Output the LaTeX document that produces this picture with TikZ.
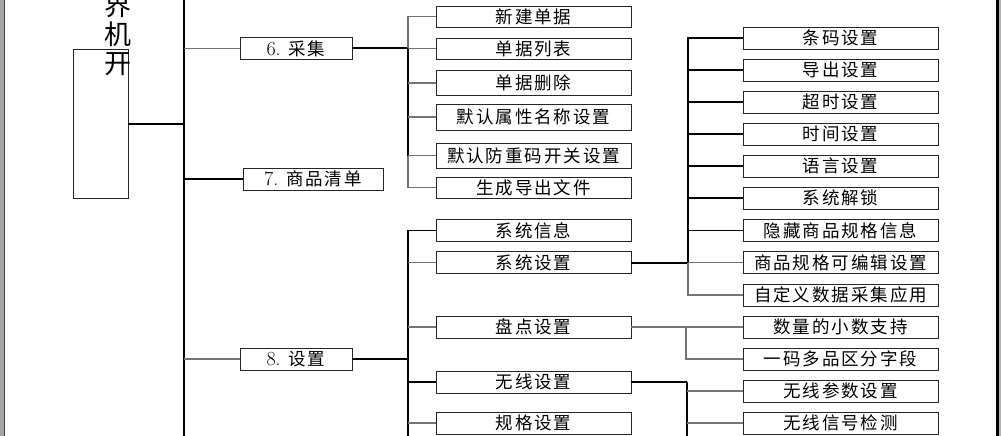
\documentclass[tikz,border=0pt]{standalone}
\usepackage{fontspec}
\newfontfamily\cjk[LetterSpace=11]{Noto Sans CJK SC}
\newfontfamily\cjkplain{Noto Sans CJK SC}
\usetikzlibrary{calc}
\newcommand\latn[1]{{\fontsize{20}{22}\rmfamily #1}}
\tikzset{
  box/.style={draw=black!85,line width=.9pt,fill=white,inner sep=0pt,minimum height=22pt,font=\fontsize{17.5}{20}\selectfont\cjk},
  topbox/.style={box,minimum width=112pt},
  midbox/.style={box,minimum width=195pt},
  leafbox/.style={box,minimum width=195pt},
  bus/.style={draw=black,line width=2pt},
  tie/.style={draw=black,line width=1.2pt},
  link/.style={draw=black!55,line width=1.1pt},
}

\begin{document}
\begin{tikzpicture}[x=1pt,y=-1pt]
  \useasboundingbox (0,0) rectangle (1001,436);
  % page edges
  \fill[black!35] (0,0) rectangle (4,436);
  \draw[black!75,line width=1pt] (4.5,0) -- (4.5,436);
  \fill[black!30] (999,0) rectangle (1001,436);
  \draw[line width=3pt] (997.5,0) -- (997.5,436);

  % root
  \node[draw=black!85,line width=.9pt,minimum width=55pt,minimum height=149pt,inner sep=0pt] (root) at (100.5,123.5) {};
  \node[font=\fontsize{27}{29}\selectfont\cjkplain,align=center,inner sep=0pt] (rootlabel) at (118,35) {界\\机\\开};
  \coordinate (spinetop) at (184,0);
  \coordinate (spinebot) at (184,436);
  \draw[tie] (spinetop) -- (spinebot);
  \draw[bus] (root.east) -- (root.east -| spinetop);

  % level 1
  \node[topbox] (c6) at (296,48.5) {\latn{6.} 采集};
  \node[topbox,minimum width=140pt] (c7) at (313,179) {\latn{7.} 商品清单};
  \node[topbox] (c8) at (296,359) {\latn{8.} 设置};
  \draw[link] (spinetop |- c6.west) -- (c6.west);
  \draw[tie] (spinetop |- c7.west) -- (c7.west);
  \draw[link] (spinetop |- c8.west) -- (c8.west);

  % 6. collect
  \node[midbox,minimum height=21pt] (s1) at (533.5,16.5) {新建单据};
  \node[midbox,minimum height=21pt] (s2) at (533.5,48.5) {单据列表};
  \node[midbox,minimum height=25pt] (s3) at (533.5,83) {单据删除};
  \node[midbox,minimum height=26pt] (s4) at (533.5,117) {默认属性名称设置};
  \node[midbox,minimum height=25pt] (s5) at (533.5,155.5) {默认防重码开关设置};
  \node[midbox,minimum height=21pt] (s6) at (533.5,187.5) {生成导出文件};
  \coordinate (j6) at (408,48.5);
  \draw[bus] (c6.east) -- (j6);
  \draw[link] (s1.west) -| (j6);
  \draw[bus] (j6) -- (j6 |- s5.west);
  \draw[link] (j6 |- s5.west) |- (s6.west);
  \foreach \n in {s2,s3,s4,s5}
    \draw[link] (\n.west) -- (\n.west -| j6);

  % 8. settings
  \node[midbox] (t1) at (533.5,230.5) {系统信息};
  \node[midbox] (t2) at (533.5,262.5) {系统设置};
  \node[midbox] (t3) at (533.5,327) {盘点设置};
  \node[midbox] (t4) at (533.5,382) {无线设置};
  \node[midbox] (t5) at (533.5,423) {规格设置};
  \coordinate (j8) at (408,359);
  \coordinate (j8bot) at (408,436);
  \draw[bus] (c8.east) -- (j8);
  \draw[tie] (t1.west) -| (j8);
  \draw[bus] (j8) -- (j8bot);
  \foreach \n in {t2,t3,t5}
    \draw[link] (\n.west) -- (\n.west -| j8);
  \draw[tie] (t4.west) -- (t4.west -| j8);

  % leaves
  \node[leafbox] (u1) at (840.5,38) {条码设置};
  \node[leafbox] (u2) at (840.5,70) {导出设置};
  \node[leafbox] (u3) at (840.5,102) {超时设置};
  \node[leafbox] (u4) at (840.5,134) {时间设置};
  \node[leafbox] (u5) at (840.5,166) {语言设置};
  \node[leafbox] (u6) at (840.5,198) {系统解锁};
  \node[leafbox] (u7) at (840.5,230.5) {隐藏商品规格信息};
  \node[leafbox] (u8) at (840.5,262.5) {商品规格可编辑设置};
  \node[leafbox] (u9) at (840.5,295) {自定义数据采集应用};
  \node[leafbox] (u10) at (840.5,327) {数量的小数支持};
  \node[leafbox] (u11) at (840.5,359) {一码多品区分字段};
  \node[leafbox] (u12) at (840.5,391) {无线参数设置};
  \node[leafbox] (u13) at (840.5,423) {无线信号检测};

  % system settings
  \coordinate (j2) at (688,262.5);
  \draw[bus] (t2.east) -- (j2);
  \draw[tie] (u1.west) -| (j2);
  \draw[link] (j2) |- (u9.west);
  \foreach \n in {u2,u3,u4,u5,u6,u7}
    \draw[tie] (\n.west) -- (\n.west -| j2);
  \draw[link] (u8.west) -- (j2);

  % stocktake settings
  \coordinate (j3) at (686,327);
  \draw[link] (t3.east) -- (u10.west);
  \draw[link] (j3) |- (u11.west);

  % wireless settings
  \coordinate (j4) at (687,382);
  \coordinate (j4bot) at (687,436);
  \draw[tie] (t4.east) -- (j4);
  \draw[tie] (j4) -- (j4bot);
  \foreach \n in {u12,u13}
    \draw[link] (\n.west) -- (\n.west -| j4);
\end{tikzpicture}
\end{document}
